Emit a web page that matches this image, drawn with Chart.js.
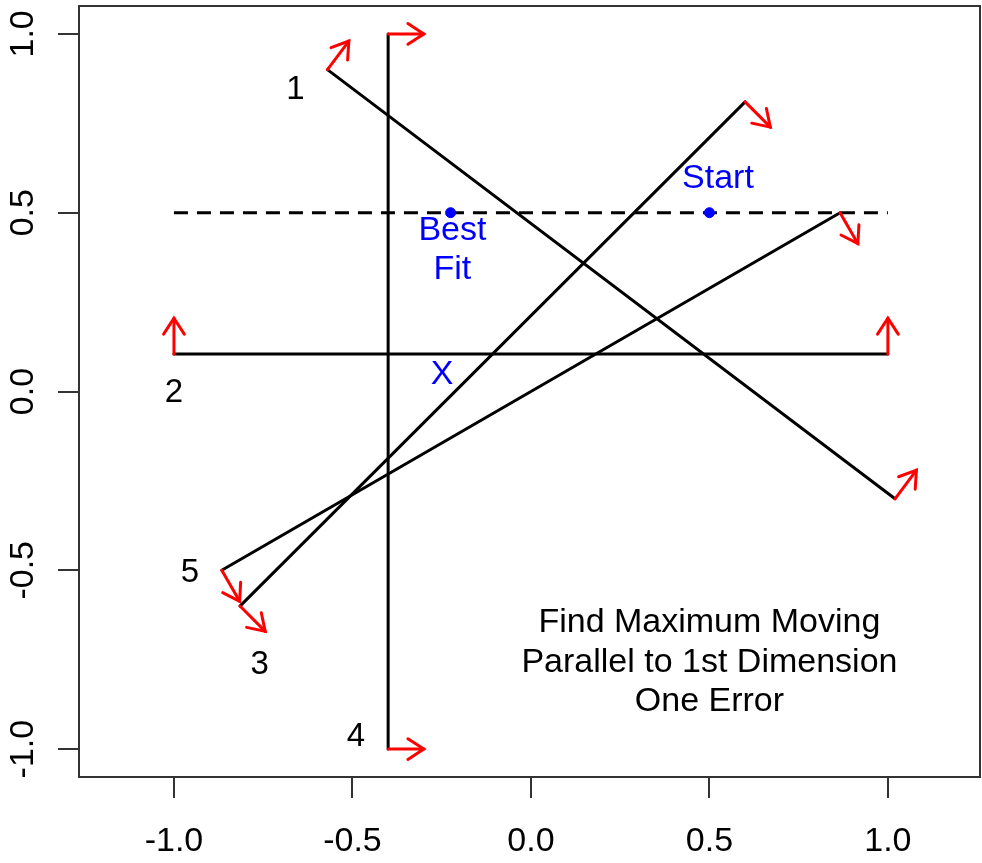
<!DOCTYPE html>
<html>
<head>
<meta charset="utf-8">
<title>Find Maximum Moving Parallel to 1st Dimension</title>
<script src="https://cdn.jsdelivr.net/npm/chart.js@4.4.1/dist/chart.umd.min.js"></script>
<style>
  body { margin: 0; background: #fff; }
  canvas { display: block; }
</style>
</head>
<body>
<canvas id="cutChart" width="982" height="863"></canvas>
<script>
// Axis ticks
var xTicks = [-1.0, -0.5, 0.0, 0.5, 1.0];
var yTicks = [-1.0, -0.5, 0.0, 0.5, 1.0];

// Cutting lines (start / end points) and their normal vectors
var cutNames = ['1', '2', '3', '4', '5'];
var cutStartX = [-0.57, -1.0, -0.815, -0.4, -0.866];
var cutStartY = [0.9, 0.105, -0.6, 1.0, -0.5];
var cutEndX = [1.02, 1.0, 0.6, -0.4, 0.866];
var cutEndY = [-0.3, 0.105, 0.81, -1.0, 0.5];
var normalX = [0.6, 0.0, 0.707, 1.0, 0.5];
var normalY = [0.8, 1.0, -0.707, 0.0, -0.866];
var arrowLen = 0.1;

// Where the line numbers are written
var cutLabelX = [-0.66, -1.0, -0.76, -0.49, -0.955];
var cutLabelY = [0.843, -0.005, -0.765, -0.967, -0.508];

// Dashed search line along the 1st dimension
var dashX = [-1.0, 1.0];
var dashY = [0.5, 0.5];

// Blue points: best fit and start
var pointX = [-0.225, 0.5];
var pointY = [0.5, 0.5];

// Blue annotations
var blueText = ['Start', 'Best\nFit', 'X'];
var blueTextX = [0.524, -0.22, -0.249];
var blueTextY = [0.595, 0.394, 0.046];

// Note in the lower right
var noteLines = ['Find Maximum Moving', 'Parallel to 1st Dimension', 'One Error'];
var noteX = 0.5;
var noteY = -0.757;

var FONT = '"Liberation Sans", Arial, sans-serif';

function buildDatasets() {
    var sets = [];
    // blue points
    sets.push({
        data: pointX.map(function (x, i) { return { x: x, y: pointY[i] }; }),
        showLine: false,
        pointRadius: 5,
        pointBackgroundColor: '#0000ff',
        pointBorderColor: '#0000ff',
        order: 0
    });
    // red normal arrows at both ends of each line
    for (var i = 0; i < cutNames.length; i++) {
        var ends = [[cutStartX[i], cutStartY[i]], [cutEndX[i], cutEndY[i]]];
        ends.forEach(function (e) {
            sets.push({
                data: [{ x: e[0], y: e[1] }, { x: e[0] + arrowLen * normalX[i], y: e[1] + arrowLen * normalY[i] }],
                showLine: true,
                borderColor: '#ff0000',
                borderWidth: 3,
                borderCapStyle: 'round',
                pointRadius: 0,
                order: 1
            });
        });
    }
    // black cutting lines
    for (var j = 0; j < cutNames.length; j++) {
        sets.push({
            data: [{ x: cutStartX[j], y: cutStartY[j] }, { x: cutEndX[j], y: cutEndY[j] }],
            showLine: true,
            borderColor: '#000000',
            borderWidth: 3,
            borderCapStyle: 'round',
            pointRadius: 0,
            order: 2
        });
    }
    // dashed line
    sets.push({
        data: dashX.map(function (x, i) { return { x: x, y: dashY[i] }; }),
        showLine: true,
        borderColor: '#000000',
        borderWidth: 3,
        borderDash: [14, 9],
        pointRadius: 0,
        order: 3
    });
    return sets;
}

// Arrow heads, box, tick labels and text
var rPlotPlugin = {
    id: 'rPlot',
    afterDatasetsDraw: function (chart) {
        var ctx = chart.ctx;
        var xs = chart.scales.x, ys = chart.scales.y;
        var headLen = 19, headAng = 33 * Math.PI / 180;
        ctx.save();
        ctx.strokeStyle = '#ff0000';
        ctx.lineWidth = 3;
        ctx.lineCap = 'round';
        for (var i = 0; i < cutNames.length; i++) {
            [[cutStartX[i], cutStartY[i]], [cutEndX[i], cutEndY[i]]].forEach(function (e) {
                var bx = xs.getPixelForValue(e[0]), by = ys.getPixelForValue(e[1]);
                var tx = xs.getPixelForValue(e[0] + arrowLen * normalX[i]);
                var ty = ys.getPixelForValue(e[1] + arrowLen * normalY[i]);
                var a = Math.atan2(ty - by, tx - bx);
                ctx.beginPath();
                ctx.moveTo(tx - headLen * Math.cos(a - headAng), ty - headLen * Math.sin(a - headAng));
                ctx.lineTo(tx, ty);
                ctx.lineTo(tx - headLen * Math.cos(a + headAng), ty - headLen * Math.sin(a + headAng));
                ctx.stroke();
            });
        }
        ctx.restore();
    },
    afterDraw: function (chart) {
        var ctx = chart.ctx;
        var area = chart.chartArea;
        var xs = chart.scales.x, ys = chart.scales.y;
        ctx.save();
        // plot box
        ctx.strokeStyle = '#333333';
        ctx.lineWidth = 2;
        ctx.strokeRect(area.left, area.top, area.right - area.left, area.bottom - area.top);

        ctx.fillStyle = '#000000';
        ctx.textAlign = 'center';
        ctx.textBaseline = 'middle';
        ctx.font = '34px ' + FONT;
        // x tick labels
        xTicks.forEach(function (v) {
            ctx.fillText(v.toFixed(1), xs.getPixelForValue(v), 842);
        });
        // y tick labels, rotated like R
        yTicks.forEach(function (v) {
            ctx.save();
            ctx.translate(24, ys.getPixelForValue(v));
            ctx.rotate(-Math.PI / 2);
            ctx.fillText(v.toFixed(1), 0, 0);
            ctx.restore();
        });

        // line numbers
        ctx.font = '33px ' + FONT;
        cutNames.forEach(function (n, i) {
            ctx.fillText(n, xs.getPixelForValue(cutLabelX[i]), ys.getPixelForValue(cutLabelY[i]));
        });

        // blue labels
        ctx.fillStyle = '#0000ff';
        ctx.font = '34px ' + FONT;
        blueText.forEach(function (t, i) {
            var parts = t.split('\n');
            var cx = xs.getPixelForValue(blueTextX[i]);
            var cy = ys.getPixelForValue(blueTextY[i]);
            parts.forEach(function (p, k) {
                ctx.fillText(p, cx, cy + (k - (parts.length - 1) / 2) * 39);
            });
        });

        // note
        ctx.fillStyle = '#000000';
        ctx.font = '34px ' + FONT;
        var nx = xs.getPixelForValue(noteX), ny = ys.getPixelForValue(noteY);
        noteLines.forEach(function (p, k) {
            ctx.fillText(p, nx, ny + (k - 1) * 39.5);
        });
        ctx.restore();
    }
};

var ctx = document.getElementById('cutChart').getContext('2d');
var cutChart = new Chart(ctx, {
    type: 'scatter',
    data: { datasets: buildDatasets() },
    options: {
        responsive: false,
        animation: false,
        devicePixelRatio: 1,
        // chart area ends up at 79..980 x 6..777
        layout: { autoPadding: false, padding: { top: 6, right: 2, left: 0, bottom: 0 } },
        plugins: { legend: { display: false }, tooltip: { enabled: false } },
        scales: {
            x: {
                type: 'linear',
                min: -1.266,
                max: 1.258,
                afterBuildTicks: function (scale) {
                    scale.ticks = xTicks.map(function (v) { return { value: v }; });
                },
                afterFit: function (scale) { scale.height = 86; },
                ticks: { display: false },
                border: { display: false },
                grid: { drawOnChartArea: false, drawTicks: true, tickLength: 21, color: '#333333', lineWidth: 2 }
            },
            y: {
                type: 'linear',
                min: -1.078,
                max: 1.078,
                afterBuildTicks: function (scale) {
                    scale.ticks = yTicks.map(function (v) { return { value: v }; });
                },
                afterFit: function (scale) { scale.width = 79; },
                ticks: { display: false },
                border: { display: false },
                grid: { drawOnChartArea: false, drawTicks: true, tickLength: 21, color: '#333333', lineWidth: 2 }
            }
        }
    },
    plugins: [rPlotPlugin]
});
</script>
</body>
</html>
